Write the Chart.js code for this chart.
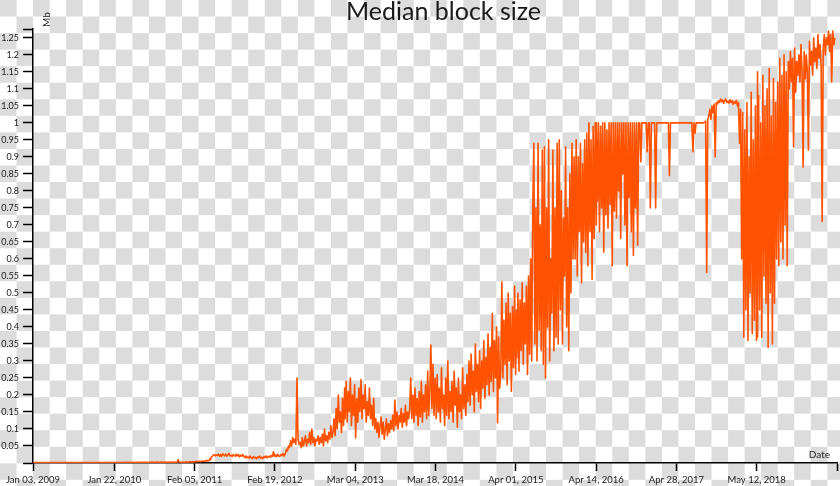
<!DOCTYPE html>
<html><head><meta charset="utf-8">
<script src="https://cdn.jsdelivr.net/npm/chart.js@4.4.1/dist/chart.umd.min.js"></script>
<style>
html,body{margin:0;padding:0;width:840px;height:486px;overflow:hidden;
background:repeating-conic-gradient(#fff 0 25%, #dcdcdc 0 50%) 0 0/33.1px 33.1px;}
canvas{display:block}
</style></head><body>
<canvas id="c" width="840" height="486"></canvas>
<script>
const chartTitle = 'Median block size';
const yAxisLabel = 'Mb';
const xAxisLabel = 'Date';
const startDate = '2009-01-03';
const xTickDates = ['2009-01-03','2010-01-22','2011-02-05','2012-02-19','2013-03-04','2014-03-18','2015-04-01','2016-04-14','2017-04-28','2018-05-12'];
const xAxisEndDate = '2019-05-26';
const yTicks = [0.05,0.1,0.15,0.2,0.25,0.3,0.35,0.4,0.45,0.5,0.55,0.6,0.65,0.7,0.75,0.8,0.85,0.9,0.95,1,1.05,1.1,1.15,1.2,1.25];
const yMax = 1.276;
const stepDays = 5;
// day offset (from startDate) of the first sample of each segment
const segmentStartDays = [0,835,1191,1473,1903,2284,2659,3040,3420];

// 2009 - early 2011
const seg1 = [
0.001,0.001,0.001,0.001,0.001,0.001,0.001,0.001,0.001,0.001,0.001,0.001,0.001,0.001,0.001,0.001,0.001,
0.001,0.001,0.001,0.001,0.001,0.001,0.001,0.001,0.001,0.001,0.001,0.001,0.001,0.001,0.001,0.001,0.001,
0.001,0.001,0.001,0.001,0.001,0.001,0.001,0.001,0.001,0.001,0.001,0.001,0.001,0.001,0.001,0.001,0.001,
0.001,0.001,0.001,0.001,0.001,0.001,0.001,0.001,0.001,0.001,0.001,0.001,0.001,0.002,0.001,0.001,0.001,
0.001,0.002,0.001,0.001,0.002,0.001,0.001,0.001,0.002,0.001,0.001,0.002,0.001,0.001,0.002,0.001,0.001,
0.002,0.001,0.002,0.001,0.002,0.002,0.001,0.002,0.001,0.002,0.002,0.001,0.002,0.002,0.001,0.002,0.002,
0.002,0.002,0.001,0.002,0.002,0.002,0.002,0.001,0.002,0.002,0.003,0.002,0.002,0.002,0.002,0.003,0.002,
0.002,0.002,0.003,0.002,0.002,0.002,0.003,0.002,0.002,0.003,0.002,0.002,0.003,0.002,0.002,0.003,0.002,
0.002,0.009,0.003,0.002,0.002,
0.002,0.003,0.002,0.003,0.003,0.002,0.003,0.004,0.003,0.003,0.004,0.003,0.004,0.005,0.004,0.004,0.005,0.004,0.005,0.006,0.005,0.006,0.007,0.006,0.008,0.007,0.009,0.011];
// 2011 - 2012
const seg2 = [
0.012,0.015,0.019,0.022,0.025,0.021,0.024,
0.022,0.026,0.02,0.025,0.019,0.027,0.023,0.021,0.026,0.02,0.024,0.028,0.021,0.023,0.019,0.025,0.022,0.02,0.026,0.021,0.024,0.018,0.023,0.02,0.025,
0.019,0.016,0.021,0.015,0.018,0.014,0.02,0.016,0.013,0.019,0.015,0.017,0.012,0.018,0.015,0.02,0.014,0.017,0.013,0.019,0.016,0.021,0.015,0.018,0.02,
0.017,0.022,0.019,0.033,0.02,0.024,0.018,0.026,0.021,0.019,0.025,0.022,0.028,0.02,0.026];
// 2012 - early 2013
const seg3 = [
0.028,0.04,0.035,0.05,0.045,
0.065,0.05,0.075,0.06,0.07,
0.055,0.25,0.07,0.055,
0.06,0.045,0.075,0.05,0.065,0.08,0.05,0.07,0.06,0.09,0.055,0.1,0.06,0.075,0.05,0.07,
0.065,0.08,0.055,0.075,0.06,0.085,0.05,0.1,0.065,0.08,0.06,0.09,0.07,0.11,0.075,
0.09,0.13,0.08,0.16,0.1,0.2,0.12,0.15,0.09,0.19,0.11,0.22];
// 2013 - 2014
const seg4 = [
0.13,0.24,0.12,0.21,0.15,0.25,0.11,0.2,0.14,0.23,0.074,0.19,0.12,0.22,
0.15,0.245,0.13,0.2,0.16,0.23,0.12,0.18,0.14,0.22,0.13,0.17,0.11,0.19,0.1,
0.13,0.09,0.12,0.075,0.11,0.135,0.085,0.12,0.07,0.1,0.13,0.08,0.115,0.09,0.125,0.1,0.14,0.095,0.185,
0.11,0.15,0.1,0.14,0.12,0.16,0.105,0.145,0.12,0.17,0.11,0.15,0.13,0.16,
0.25,0.13,0.2,0.12,0.22,0.14,0.19,0.11,0.21,0.135,0.24,0.12,0.2,0.15,0.23,0.13,0.27,0.14,0.21,
0.347,0.16,0.29,0.14,0.25,0.17];
// 2014 - 2015
const seg5 = [
0.13,0.26,0.15,0.22,0.12,0.28,0.16,0.2,0.11,0.25,0.14,0.3,0.13,0.21,0.15,0.24,0.12,0.27,0.17,0.22,0.105,0.25,0.15,0.2,0.13,0.28,0.16,0.23,0.14,0.26,0.18,0.3,
0.17,0.32,0.2,0.27,0.15,0.35,0.21,0.29,0.18,0.33,0.16,0.3,0.22,0.36,0.19,0.31,0.23,0.38,0.2,0.34,0.24,0.44,0.21,0.36,0.25,0.4,0.118,0.37,0.22,
0.27,0.533,0.25,0.42,0.29,0.47,0.23,0.5,0.3,0.44,0.21,0.46,0.28,0.52,0.26,0.45];
// 2015 - 2016
const seg6 = [
0.31,0.5,0.27,0.48,0.33,0.53,0.29,0.47,0.35,0.52,0.26,0.55,0.32,0.6,0.3,0.75,
0.94,0.35,0.75,0.3,0.94,0.39,0.7,0.33,0.92,0.29,
0.93,0.25,0.75,0.4,0.95,0.3,0.6,0.44,0.92,0.33,0.75,0.37,0.94,0.35,
0.95,0.45,0.8,0.35,0.72,0.55,0.93,0.4,0.75,0.33,0.85,0.5,0.94,0.6,0.9,
0.6,0.95,0.55,0.9,0.68,0.94,0.53,0.88,0.65,0.95,0.62,
0.97,0.58,1.0,0.68,0.95,0.54,0.99,0.66,1.0,0.7];
// 2016 - 2017
const seg7 = [
1.0,0.77,1.0,0.68,0.99,0.75,1.0,0.62,1.0,0.73,0.98,0.69,1.0,0.76,1.0,0.58,1.0,0.74,
1.0,0.72,1.0,0.8,1.0,0.66,1.0,0.85,1.0,0.7,1.0,0.58,1.0,0.78,1.0,0.68,1.0,0.61,1.0,0.75,1.0,0.64,
1.0,1.0,0.885,1.0,1.0,1.0,1.0,1.0,0.915,1.0,1.0,0.75,1.0,1.0,1.0,1.0,0.75,1.0,1.0,
1.0,1.0,1.0,1.0,1.0,1.0,1.0,1.0,1.0,1.0,0.845,1.0,1.0,1.0,1.0,1.0,1.0,1.0];
// 2017 - 2018
const seg8 = [
1.0,1.0,1.0,1.0,1.0,1.0,1.0,1.0,1.0,1.0,1.0,1.0,1.0,1.0,1.0,
0.915,1.0,0.97,1.0,1.0,1.0,1.0,1.0,1.0,1.0,1.0,1.002,
1.005,0.56,1.01,
1.02,1.04,1.01,1.05,1.03,1.055,
0.9,
1.06,1.055,1.065,1.06,1.07,1.062,1.068,1.058,1.066,1.07,1.06,1.064,1.058,1.068,1.06,1.065,1.055,1.062,1.058,1.066,1.05,1.06,
0.94,1.04,
0.6,1.03,0.37,0.98,0.45,1.06,0.36,0.9,0.5,1.09,0.38,0.95,0.42,1.05,0.36,1.15];
// 2018 - 2019
const seg9 = [
0.37,1.08,0.45,1.0,0.37,
1.14,0.55,1.05,0.47,1.1,
0.34,1.16,0.5,1.02,0.35,
1.13,0.47,1.06,0.6,1.12,
0.58,1.19,0.65,1.14,0.6,
1.2,0.7,1.15,0.58,1.18,
1.1,1.21,1.12,1.19,0.93,1.22,1.09,1.18,1.14,1.2,
1.12,1.23,1.15,0.87,1.21,1.13,
1.2,1.15,0.92,1.24,1.17,1.21,1.14,1.25,1.18,1.22,1.16,1.26,1.19,1.23,1.17,
0.71,
1.22,1.26,1.2,1.25,1.23,1.27,1.21,1.26,1.12,1.27,1.23,1.25];

const segments = [seg1,seg2,seg3,seg4,seg5,seg6,seg7,seg8,seg9];
const MS_DAY = 86400000;
const t0 = Date.parse(startDate + 'T00:00:00Z');
const dayOf = s => Math.round((Date.parse(s + 'T00:00:00Z') - t0) / MS_DAY);
const xTickDays = xTickDates.map(dayOf);
const xMax = dayOf(xAxisEndDate);
const MONTHS = ['Jan','Feb','Mar','Apr','May','Jun','Jul','Aug','Sep','Oct','Nov','Dec'];
function fmtDay(d){
  const dt = new Date(t0 + d * MS_DAY);
  return MONTHS[dt.getUTCMonth()] + ' ' + String(dt.getUTCDate()).padStart(2,'0') + ', ' + dt.getUTCFullYear();
}

const points = [];
segments.forEach((seg, s) => {
  seg.forEach((v, k) => points.push({x: segmentStartDays[s] + k * stepDays, y: v}));
});

const textColor = '#1a1a1a';
const labelsPlugin = {
  id: 'labels',
  afterDraw(chart){
    const ctx = chart.ctx;
    ctx.save();
    ctx.fillStyle = textColor;
    ctx.font = '25px Lato';
    ctx.textAlign = 'center';
    ctx.textBaseline = 'alphabetic';
    ctx.fillText(chartTitle, 443.5, 19.5);
    ctx.font = '10px Lato';
    ctx.textAlign = 'right';
    ctx.fillText(xAxisLabel, 830, 457.5);
    ctx.translate(46.5, 19.5);
    ctx.rotate(-Math.PI / 2);
    ctx.textAlign = 'center';
    ctx.textBaseline = 'middle';
    ctx.fillText(yAxisLabel, 0, 0);
    ctx.restore();
  }
};

function draw(){
  Chart.defaults.font.family = 'Lato';
  new Chart(document.getElementById('c'), {
    type: 'line',
    data: { datasets: [{
      data: points,
      borderColor: '#ff5200',
      borderWidth: 1.6,
      borderJoinStyle: 'round',
      pointRadius: 0,
      tension: 0,
      fill: false
    }]},
    options: {
      responsive: false,
      animation: false,
      devicePixelRatio: 1,
      parsing: false,
      normalized: true,
      layout: { padding: { top: 29, right: 1.3, left: 0, bottom: 0 } },
      plugins: { legend: {display:false}, tooltip: {enabled:false}, title: {display:false} },
      scales: {
        x: {
          type: 'linear', min: 0, max: xMax,
          afterBuildTicks: sc => { sc.ticks = xTickDays.concat([xMax]).map(v => ({value: v})); },
          afterFit: sc => { sc.height = 23; },
          grid: { display: true, drawOnChartArea: false, drawTicks: true, tickLength: 8, tickWidth: 1.5, tickColor: '#000' },
          border: { display: true, color: '#000', width: 1.5 },
          ticks: { autoSkip: false, maxRotation: 0, minRotation: 0, padding: 3, color: textColor,
            font: { size: 9.5, family: 'Lato' },
            callback: v => (v === xMax ? '' : fmtDay(v)) }
        },
        y: {
          type: 'linear', min: 0, max: yMax,
          afterBuildTicks: sc => { sc.ticks = [0].concat(yTicks, [yMax]).map(v => ({value: v})); },
          afterFit: sc => { sc.width = 33; },
          grid: { display: true, drawOnChartArea: false, drawTicks: true, tickLength: 10, tickWidth: 1.5, tickColor: '#000' },
          border: { display: true, color: '#000', width: 1.5 },
          ticks: { autoSkip: false, padding: 4, color: textColor,
            font: { size: 9, family: 'Lato' },
            callback: v => (yTicks.includes(v) ? String(parseFloat(v.toFixed(2))) : '') }
        }
      }
    },
    plugins: [labelsPlugin]
  });
}
if (document.fonts && document.fonts.load) {
  Promise.all([document.fonts.load('25px Lato'), document.fonts.load('10px Lato')]).then(draw, draw);
} else { draw(); }
</script>
</body></html>
